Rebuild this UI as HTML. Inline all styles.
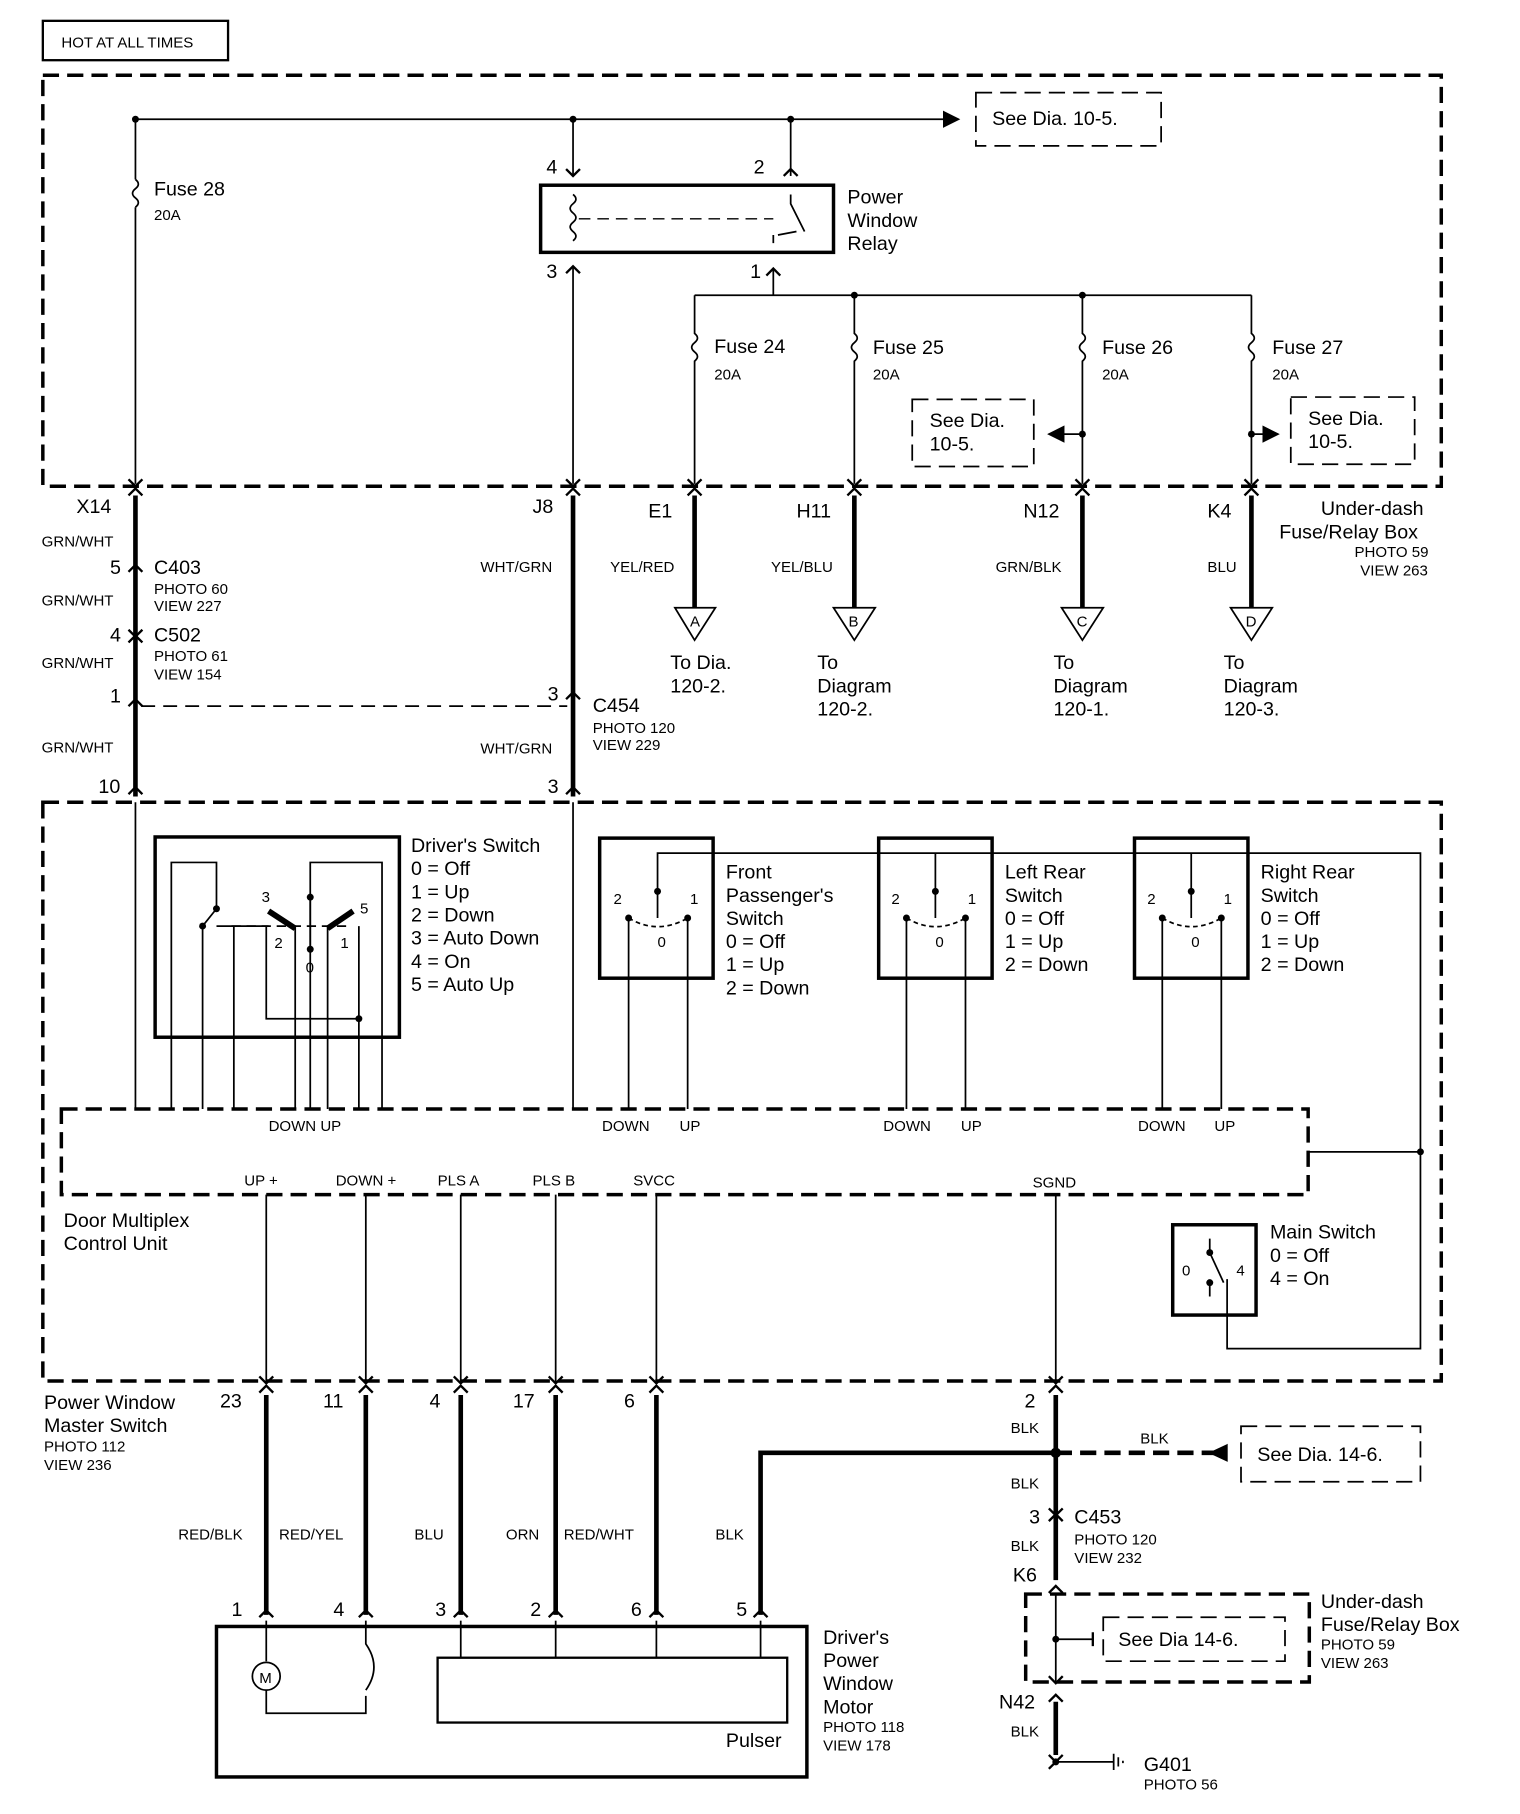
<!DOCTYPE html>
<html><head><meta charset="utf-8">
<style>
html,body{margin:0;padding:0;background:#fff;}
svg{display:block;}
text{font-family:"Liberation Sans",sans-serif;fill:#000;}
.l{font-size:17px;}
.s{font-size:13px;}
</style></head><body>
<svg width="1520" height="1814" viewBox="0 0 1313 1567" preserveAspectRatio="none" xmlns="http://www.w3.org/2000/svg">
<defs>
<marker id="ah" markerWidth="10" markerHeight="10" refX="9" refY="5" orient="auto"><path d="M0,0 L10,5 L0,10 z" fill="#000"/></marker>
</defs>
<g stroke="#000" fill="none">
<rect x="37" y="18" width="160" height="34" stroke-width="2"/>
<rect x="37" y="65" width="1208" height="355" stroke-width="3" stroke-dasharray="14,7"/>
<line x1="117" y1="103" x2="828" y2="103" stroke-width="1.5" marker-end="url(#ah)"/>
<rect x="843" y="80" width="160" height="46" stroke-width="1.5" stroke-dasharray="14,7"/>
<line x1="117" y1="103" x2="117" y2="155" stroke-width="1.5"/>
<path d="M117,155 q5,4 0,8 q-5,4 0,8 q5,4 0,8" stroke-width="1.5"/>
<line x1="117" y1="179" x2="117" y2="418" stroke-width="1.5"/>
<line x1="495" y1="103" x2="495" y2="152" stroke-width="1.5"/>
<line x1="683" y1="103" x2="683" y2="152" stroke-width="1.5"/>
<rect x="467" y="160" width="253" height="58" stroke-width="3"/>
<path d="M495,168 q5,4 0,8 q-5,4 0,8 q5,4 0,8 q-5,4 0,8 q5,4 0,8" stroke-width="1.5"/>
<line x1="500" y1="189" x2="668" y2="189" stroke-width="1.2" stroke-dasharray="10,6"/>
<path d="M683,168 L683,176 L695,200 M668,203 L668,210 M672,203 L688,200" stroke-width="1.5"/>
<line x1="495" y1="230" x2="495" y2="418" stroke-width="1.5"/>
<line x1="668" y1="232" x2="668" y2="255" stroke-width="1.5"/>
<line x1="600" y1="255" x2="1081" y2="255" stroke-width="1.5"/>
<g stroke-width="1.5">
<path d="M600,255 V288 q5,4 0,8 q-5,4 0,8 q5,4 0,8 V418"/>
<path d="M738,255 V288 q5,4 0,8 q-5,4 0,8 q5,4 0,8 V418"/>
<path d="M935,255 V288 q5,4 0,8 q-5,4 0,8 q5,4 0,8 V418"/>
<path d="M1081,255 V288 q5,4 0,8 q-5,4 0,8 q5,4 0,8 V418"/>
<line x1="935" y1="375" x2="906" y2="375" marker-end="url(#ah)"/>
<line x1="1081" y1="375" x2="1104" y2="375" marker-end="url(#ah)"/>
</g>
<rect x="788" y="345" width="105" height="58" stroke-width="1.5" stroke-dasharray="14,7"/>
<rect x="1115" y="343" width="107" height="58" stroke-width="1.5" stroke-dasharray="14,7"/>
<!-- connector forks -->
<g stroke-width="2">
<path d="M111,414 L117,420 L123,414 M111,428 L117,422 L123,428"/>
<path d="M489,414 L495,420 L501,414 M489,428 L495,422 L501,428"/>
<path d="M594,414 L600,420 L606,414 M594,428 L600,422 L606,428"/>
<path d="M732,414 L738,420 L744,414 M732,428 L738,422 L744,428"/>
<path d="M929,414 L935,420 L941,414 M929,428 L935,422 L941,428"/>
<path d="M1075,414 L1081,420 L1087,414 M1075,428 L1081,422 L1087,428"/>
<path d="M489,146 L495,152 L501,146 M677,152 L683,146 L689,152"/>
<path d="M489,236 L495,230 L501,236 M662,238 L668,232 L674,238"/>
<path d="M111,494 L117,488 L123,494 M111,544 L117,550 L123,544 M111,555 L117,549 L123,555"/>
<path d="M111,610 L117,604 L123,610 M489,604 L495,598 L501,604"/>
<path d="M111,686 L117,680 L123,686 M489,686 L495,680 L501,686"/>
</g>
<g stroke-width="4">
<line x1="117" y1="428" x2="117" y2="688"/>
<line x1="495" y1="428" x2="495" y2="688"/>
<line x1="600" y1="428" x2="600" y2="525"/>
<line x1="738" y1="428" x2="738" y2="525"/>
<line x1="935" y1="428" x2="935" y2="525"/>
<line x1="1081" y1="428" x2="1081" y2="525"/>
</g>
<g stroke-width="1.5">
<path d="M583,525 H618 L600,553 Z"/>
<path d="M720,525 H756 L738,553 Z"/>
<path d="M917,525 H953 L935,553 Z"/>
<path d="M1063,525 H1099 L1081,553 Z"/>
<line x1="122" y1="610" x2="490" y2="610" stroke-dasharray="12,7"/>
</g>
<rect x="37" y="693" width="1208" height="500" stroke-width="3" stroke-dasharray="14,7"/>
<rect x="134" y="723" width="211" height="173" stroke-width="3"/>
<g stroke-width="1.5">
<path d="M148,958 V745 H187 V785"/>
<path d="M175,958 V800 L187,785 M187,800 H232 M202,958 V800"/>
<path d="M268,958 V745 H330 V958"/>
<path d="M255,958 V800 M230,800 V880 H310 M283,958 V800 M310,958 V800"/>
<path d="M268,775 V820"/>
<line x1="200" y1="800" x2="300" y2="800" stroke-dasharray="8,5"/>
<path d="M232,787 L255,802" stroke-width="5"/>
<path d="M283,802 L305,787" stroke-width="5"/>
<line x1="117" y1="693" x2="117" y2="958"/>
<line x1="495" y1="693" x2="495" y2="958"/>
</g>
<g stroke-width="3">
<rect x="518" y="724" width="98" height="121"/>
<rect x="759" y="724" width="98" height="121"/>
<rect x="980" y="724" width="98" height="121"/>
</g>
<g stroke-width="1.5">
<path d="M543,958 V793 M594,958 V793 M568,793 V737 H1227 V1165 H1060 V1105 M1130,995 H1227"/>
<path d="M783,958 V793 M834,958 V793 M808,793 V737"/>
<path d="M1004,958 V793 M1055,958 V793 M1029,793 V737"/>
<path d="M543,793 Q568,808 594,793 M783,793 Q808,808 834,793 M1004,793 Q1029,808 1055,793" stroke-dasharray="4,3"/>
</g>
<rect x="53" y="958" width="1077" height="74" stroke-width="3" stroke-dasharray="14,7"/>
<rect x="1013" y="1058" width="72" height="78" stroke-width="3"/>
<path d="M1045,1070 V1082 L1057,1108 M1045,1108 V1120" stroke-width="1.5"/>
<g stroke-width="1.5">
<line x1="230" y1="1032" x2="230" y2="1195"/>
<line x1="316" y1="1032" x2="316" y2="1195"/>
<line x1="398" y1="1032" x2="398" y2="1195"/>
<line x1="480" y1="1032" x2="480" y2="1195"/>
<line x1="567" y1="1032" x2="567" y2="1195"/>
<line x1="912" y1="1032" x2="912" y2="1195"/>
</g>
<g stroke-width="2">
<path d="M224,1189 L230,1195 L236,1189 M224,1203 L230,1197 L236,1203"/>
<path d="M310,1189 L316,1195 L322,1189 M310,1203 L316,1197 L322,1203"/>
<path d="M392,1189 L398,1195 L404,1189 M392,1203 L398,1197 L404,1203"/>
<path d="M474,1189 L480,1195 L486,1189 M474,1203 L480,1197 L486,1203"/>
<path d="M561,1189 L567,1195 L573,1189 M561,1203 L567,1197 L573,1203"/>
<path d="M906,1189 L912,1195 L918,1189 M906,1203 L912,1197 L918,1203"/>
<path d="M224,1397 L230,1391 L236,1397 M310,1397 L316,1391 L322,1397 M392,1397 L398,1391 L404,1397 M474,1397 L480,1391 L486,1397 M561,1397 L567,1391 L573,1397 M651,1397 L657,1391 L663,1397"/>
<path d="M906,1303 L912,1309 L918,1303 M906,1314 L912,1308 L918,1314"/>
<path d="M906,1376 L912,1370 L918,1376 M906,1448 L912,1454 L918,1448 M906,1470 L912,1464 L918,1470"/>
<path d="M906,1516 L912,1522 L918,1516 M906,1528 L912,1522"/>
</g>
<g stroke-width="4">
<line x1="230" y1="1205" x2="230" y2="1395"/>
<line x1="316" y1="1205" x2="316" y2="1395"/>
<line x1="398" y1="1205" x2="398" y2="1395"/>
<line x1="480" y1="1205" x2="480" y2="1395"/>
<line x1="567" y1="1205" x2="567" y2="1395"/>
<path d="M657,1395 V1255 H912"/>
<line x1="912" y1="1205" x2="912" y2="1365"/>
<line x1="912" y1="1470" x2="912" y2="1516"/>
</g>
<line x1="912" y1="1255" x2="1060" y2="1255" stroke-width="4" stroke-dasharray="14,7"/>
<path d="M1060,1248 L1045,1255 L1060,1262 Z" fill="#000"/>
<rect x="1072" y="1232" width="155" height="48" stroke-width="1.5" stroke-dasharray="14,7"/>
<circle cx="912" cy="1255" r="4" fill="#000"/>
<rect x="886" y="1377" width="245" height="76" stroke-width="3" stroke-dasharray="14,7"/>
<line x1="912" y1="1377" x2="912" y2="1453" stroke-width="1.5"/>
<line x1="912" y1="1416" x2="944" y2="1416" stroke-width="1.5"/>
<path d="M944,1410 L944,1422" stroke-width="2"/>
<rect x="953" y="1397" width="157" height="38" stroke-width="1.5" stroke-dasharray="14,7"/>
<path d="M912,1522 H962 M962,1515 V1529 M966,1518 V1526 M970,1521 V1523" stroke-width="1.5"/>
<rect x="187" y="1405" width="510" height="130" stroke-width="3"/>
<rect x="378" y="1432" width="302" height="56" stroke-width="2"/>
<g stroke-width="1.5">
<path d="M230,1400 V1435 M230,1460 V1480 H316 V1465 M316,1400 V1420 Q330,1440 316,1460"/>
<circle cx="230" cy="1448" r="12"/>
<line x1="398" y1="1400" x2="398" y2="1432"/>
<line x1="480" y1="1400" x2="480" y2="1432"/>
<line x1="567" y1="1400" x2="567" y2="1432"/>
<line x1="657" y1="1400" x2="657" y2="1432"/>
</g>
</g>
<g fill="#000">
<circle cx="117" cy="103" r="3"/><circle cx="495" cy="103" r="3"/><circle cx="683" cy="103" r="3"/>
<circle cx="738" cy="255" r="3"/><circle cx="935" cy="255" r="3"/>
<circle cx="935" cy="375" r="3"/><circle cx="1081" cy="375" r="3"/>
<circle cx="1227" cy="995" r="3"/><circle cx="912" cy="1416" r="3"/>
<circle cx="187" cy="785" r="3"/><circle cx="268" cy="775" r="3"/><circle cx="268" cy="820" r="3"/>
<circle cx="175" cy="800" r="3"/><circle cx="310" cy="880" r="3"/>
<circle cx="568" cy="770" r="3"/><circle cx="808" cy="770" r="3"/><circle cx="1029" cy="770" r="3"/>
<circle cx="543" cy="793" r="3"/><circle cx="594" cy="793" r="3"/><circle cx="783" cy="793" r="3"/><circle cx="834" cy="793" r="3"/><circle cx="1004" cy="793" r="3"/><circle cx="1055" cy="793" r="3"/>
<circle cx="1045" cy="1082" r="3"/><circle cx="1045" cy="1108" r="3"/>
<circle cx="912" cy="1522" r="3"/>
</g>
<text x="53" y="41" class="s" font-size="14">HOT AT ALL TIMES</text>
<text x="857" y="108" class="l">See Dia. 10-5.</text>
<text x="133" y="169" class="l">Fuse 28</text><text x="133" y="190" class="s">20A</text>
<text x="472" y="150" class="l">4</text><text x="651" y="150" class="l">2</text>
<text x="472" y="240" class="l">3</text><text x="648" y="240" class="l">1</text>
<text x="732" y="176" class="l">Power</text><text x="732" y="196" class="l">Window</text><text x="732" y="216" class="l">Relay</text>
<text x="617" y="305" class="l">Fuse 24</text><text x="617" y="328" class="s">20A</text>
<text x="754" y="306" class="l">Fuse 25</text><text x="754" y="328" class="s">20A</text>
<text x="952" y="306" class="l">Fuse 26</text><text x="952" y="328" class="s">20A</text>
<text x="1099" y="306" class="l">Fuse 27</text><text x="1099" y="328" class="s">20A</text>
<text x="803" y="369" class="l">See Dia.</text><text x="803" y="389" class="l">10-5.</text>
<text x="1130" y="367" class="l">See Dia.</text><text x="1130" y="387" class="l">10-5.</text>
<text x="66" y="443" class="l">X14</text><text x="460" y="443" class="l">J8</text><text x="560" y="447" class="l">E1</text>
<text x="688" y="447" class="l">H11</text><text x="884" y="447" class="l">N12</text><text x="1043" y="447" class="l">K4</text>
<text x="1141" y="445" class="l">Under-dash</text><text x="1105" y="465" class="l">Fuse/Relay Box</text>
<text x="1170" y="481" class="s">PHOTO 59</text><text x="1175" y="497" class="s">VIEW 263</text>
<text x="36" y="472" class="s">GRN/WHT</text><text x="36" y="523" class="s">GRN/WHT</text><text x="36" y="577" class="s">GRN/WHT</text><text x="36" y="650" class="s">GRN/WHT</text>
<text x="95" y="496" class="l">5</text><text x="133" y="496" class="l">C403</text><text x="133" y="513" class="s">PHOTO 60</text><text x="133" y="528" class="s">VIEW 227</text>
<text x="95" y="554" class="l">4</text><text x="133" y="554" class="l">C502</text><text x="133" y="571" class="s">PHOTO 61</text><text x="133" y="587" class="s">VIEW 154</text>
<text x="95" y="607" class="l">1</text><text x="473" y="605" class="l">3</text>
<text x="512" y="615" class="l">C454</text><text x="512" y="633" class="s">PHOTO 120</text><text x="512" y="648" class="s">VIEW 229</text>
<text x="415" y="494" class="s">WHT/GRN</text><text x="415" y="651" class="s">WHT/GRN</text>
<text x="527" y="494" class="s">YEL/RED</text><text x="666" y="494" class="s">YEL/BLU</text><text x="860" y="494" class="s">GRN/BLK</text><text x="1043" y="494" class="s">BLU</text>
<text x="596" y="541" class="s">A</text><text x="733" y="541" class="s">B</text><text x="930" y="541" class="s">C</text><text x="1076" y="541" class="s">D</text>
<text x="579" y="578" class="l">To Dia.</text><text x="579" y="598" class="l">120-2.</text>
<text x="706" y="578" class="l">To</text><text x="706" y="598" class="l">Diagram</text><text x="706" y="618" class="l">120-2.</text>
<text x="910" y="578" class="l">To</text><text x="910" y="598" class="l">Diagram</text><text x="910" y="618" class="l">120-1.</text>
<text x="1057" y="578" class="l">To</text><text x="1057" y="598" class="l">Diagram</text><text x="1057" y="618" class="l">120-3.</text>
<text x="85" y="685" class="l">10</text><text x="473" y="685" class="l">3</text>
<text x="355" y="736" class="l">Driver's Switch</text><text x="355" y="756" class="l">0 = Off</text><text x="355" y="776" class="l">1 = Up</text>
<text x="355" y="796" class="l">2 = Down</text><text x="355" y="816" class="l">3 = Auto Down</text><text x="355" y="836" class="l">4 = On</text><text x="355" y="856" class="l">5 = Auto Up</text>
<text x="226" y="779" class="s">3</text><text x="311" y="789" class="s">5</text><text x="237" y="819" class="s">2</text><text x="294" y="819" class="s">1</text><text x="264" y="840" class="s">0</text>
<text x="530" y="781" class="s">2</text><text x="596" y="781" class="s">1</text><text x="568" y="818" class="s">0</text>
<text x="770" y="781" class="s">2</text><text x="836" y="781" class="s">1</text><text x="808" y="818" class="s">0</text>
<text x="991" y="781" class="s">2</text><text x="1057" y="781" class="s">1</text><text x="1029" y="818" class="s">0</text>
<text x="627" y="759" class="l">Front</text><text x="627" y="779" class="l">Passenger's</text><text x="627" y="799" class="l">Switch</text>
<text x="627" y="819" class="l">0 = Off</text><text x="627" y="839" class="l">1 = Up</text><text x="627" y="859" class="l">2 = Down</text>
<text x="868" y="759" class="l">Left Rear</text><text x="868" y="779" class="l">Switch</text><text x="868" y="799" class="l">0 = Off</text><text x="868" y="819" class="l">1 = Up</text><text x="868" y="839" class="l">2 = Down</text>
<text x="1089" y="759" class="l">Right Rear</text><text x="1089" y="779" class="l">Switch</text><text x="1089" y="799" class="l">0 = Off</text><text x="1089" y="819" class="l">1 = Up</text><text x="1089" y="839" class="l">2 = Down</text>
<text x="232" y="977" class="s">DOWN UP</text>
<text x="520" y="977" class="s">DOWN</text><text x="587" y="977" class="s">UP</text>
<text x="763" y="977" class="s">DOWN</text><text x="830" y="977" class="s">UP</text>
<text x="983" y="977" class="s">DOWN</text><text x="1049" y="977" class="s">UP</text>
<text x="211" y="1024" class="s">UP +</text><text x="290" y="1024" class="s">DOWN +</text><text x="378" y="1024" class="s">PLS A</text>
<text x="460" y="1024" class="s">PLS B</text><text x="547" y="1024" class="s">SVCC</text><text x="892" y="1026" class="s">SGND</text>
<text x="55" y="1060" class="l">Door Multiplex</text><text x="55" y="1080" class="l">Control Unit</text>
<text x="1097" y="1070" class="l">Main Switch</text><text x="1097" y="1090" class="l">0 = Off</text><text x="1097" y="1110" class="l">4 = On</text>
<text x="1021" y="1102" class="s">0</text><text x="1068" y="1102" class="s">4</text>
<text x="38" y="1217" class="l">Power Window</text><text x="38" y="1237" class="l">Master Switch</text>
<text x="38" y="1254" class="s">PHOTO 112</text><text x="38" y="1270" class="s">VIEW 236</text>
<text x="190" y="1216" class="l">23</text><text x="279" y="1216" class="l">11</text><text x="371" y="1216" class="l">4</text>
<text x="443" y="1216" class="l">17</text><text x="539" y="1216" class="l">6</text><text x="885" y="1216" class="l">2</text>
<text x="873" y="1238" class="s">BLK</text><text x="985" y="1247" class="s">BLK</text><text x="873" y="1286" class="s">BLK</text>
<text x="1086" y="1262" class="l">See Dia. 14-6.</text>
<text x="889" y="1316" class="l">3</text><text x="928" y="1316" class="l">C453</text><text x="928" y="1334" class="s">PHOTO 120</text><text x="928" y="1350" class="s">VIEW 232</text>
<text x="873" y="1340" class="s">BLK</text><text x="875" y="1366" class="l">K6</text>
<text x="154" y="1330" class="s">RED/BLK</text><text x="241" y="1330" class="s">RED/YEL</text><text x="358" y="1330" class="s">BLU</text>
<text x="437" y="1330" class="s">ORN</text><text x="487" y="1330" class="s">RED/WHT</text><text x="618" y="1330" class="s">BLK</text>
<text x="200" y="1396" class="l">1</text><text x="288" y="1396" class="l">4</text><text x="376" y="1396" class="l">3</text>
<text x="458" y="1396" class="l">2</text><text x="545" y="1396" class="l">6</text><text x="636" y="1396" class="l">5</text>
<text x="224" y="1454" class="s" font-size="12">M</text>
<text x="627" y="1509" class="l">Pulser</text>
<text x="711" y="1420" class="l">Driver's</text><text x="711" y="1440" class="l">Power</text><text x="711" y="1460" class="l">Window</text><text x="711" y="1480" class="l">Motor</text>
<text x="711" y="1496" class="s">PHOTO 118</text><text x="711" y="1512" class="s">VIEW 178</text>
<text x="1141" y="1389" class="l">Under-dash</text><text x="1141" y="1409" class="l">Fuse/Relay Box</text>
<text x="1141" y="1425" class="s">PHOTO 59</text><text x="1141" y="1441" class="s">VIEW 263</text>
<text x="966" y="1422" class="l">See Dia 14-6.</text>
<text x="863" y="1476" class="l">N42</text><text x="873" y="1500" class="s">BLK</text>
<text x="988" y="1530" class="l">G401</text><text x="988" y="1546" class="s">PHOTO 56</text>
</svg>
</body></html>
